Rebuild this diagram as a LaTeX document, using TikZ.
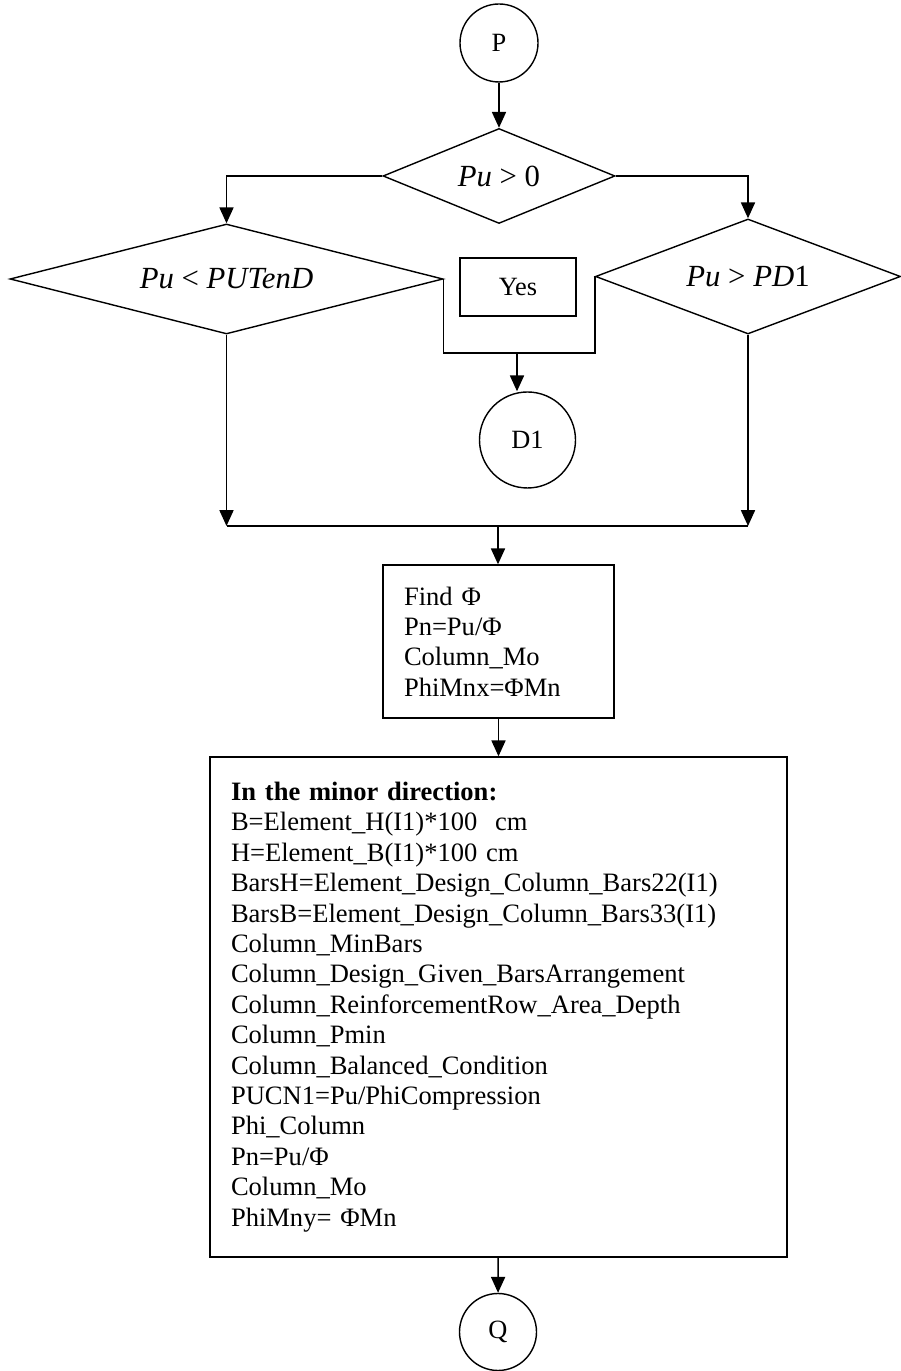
\documentclass[tikz,border=0pt]{standalone}
\usepackage{fontspec}
\setmainfont{Liberation Serif}
\usetikzlibrary{shapes.geometric,arrows.meta,positioning,calc}

\begin{document}
\begin{tikzpicture}[
    line width=0.8pt,
    arr/.style={-{Triangle[length=9pt,width=8pt]}},
    conn/.style={draw, circle, inner sep=0pt, font=\fontsize{15}{17}\selectfont},
    decision/.style={draw, diamond, inner sep=0pt, font=\fontsize{17.5}{20}\selectfont\itshape},
    procbox/.style={draw, rectangle, align=left, inner xsep=0.42cm, font=\fontsize{15.1}{17.3}\selectfont}
]
\fill[white] (0,0) rectangle (18,27.42);
\useasboundingbox (0,0) rectangle (18,27.42);

\node[conn, minimum size=1.56cm] (p) at (9.98,26.56) {P};
\node[decision, aspect=2.4, minimum width=4.64cm, minimum height=1.9cm] (pos) at (9.98,23.9) {Pu \textup{> 0}};
\node[decision, aspect=4, minimum width=8.66cm, minimum height=2.2cm] (tens) at (4.53,21.84) {Pu \textup{<} PUTenD};
\node[decision, aspect=2.65, minimum width=6.1cm, minimum height=2.3cm] (comp) at (14.96,21.89) {Pu \textup{>} PD\textup{1}};
\node[draw, minimum width=2.32cm, minimum height=1.16cm, font=\fontsize{15}{17}\selectfont] (yes) at (10.36,21.68) {Yes};
\node[conn, minimum size=1.92cm] (d1) at (10.55,18.62) {D1};
\coordinate (yesjoin) at (10.34,20.36);
\coordinate (merge) at (9.96,16.90);

\node[procbox, text width=3.78cm, minimum height=3.06cm] (phix) at (9.97,14.59)
    {Find Φ\\Pn=Pu/Φ\\Column\_Mo\\PhiMnx=ΦMn};
\node[procbox, text width=10.7cm, minimum height=10cm] (minor) at (9.97,7.28)
    {\textbf{In the minor direction:}\\
     B=Element\_H(I1)*100\ \ cm\\
     H=Element\_B(I1)*100 cm\\
     BarsH=Element\_Design\_Column\_Bars22(I1)\\
     BarsB=Element\_Design\_Column\_Bars33(I1)\\
     Column\_MinBars\\
     Column\_Design\_Given\_BarsArrangement\\
     Column\_ReinforcementRow\_Area\_Depth\\
     Column\_Pmin\\
     Column\_Balanced\_Condition\\
     PUCN1=Pu/PhiCompression\\
     Phi\_Column\\
     Pn=Pu/Φ\\
     Column\_Mo\\
     PhiMny= ΦMn};
\node[conn, minimum size=1.54cm] (q) at (9.96,0.78) {Q};

\draw[arr] (p) -- (pos);
\draw[arr] (pos.west) -| (tens.north);
\draw[arr] (pos.east) -| (comp.north);
\draw (tens.east) |- (yesjoin) -| (comp.west);
\draw[arr] (yesjoin) -- (yesjoin |- d1.north);
\draw[arr] (tens.south) -- (tens.south |- merge);
\draw[arr] (comp.south) -- (comp.south |- merge);
\draw (tens.south |- merge) -- (comp.south |- merge);
\draw[arr] (merge) -- (merge |- phix.north);
\draw[arr] (phix) -- (minor);
\draw[arr] (minor) -- (q);
\end{tikzpicture}
\end{document}
